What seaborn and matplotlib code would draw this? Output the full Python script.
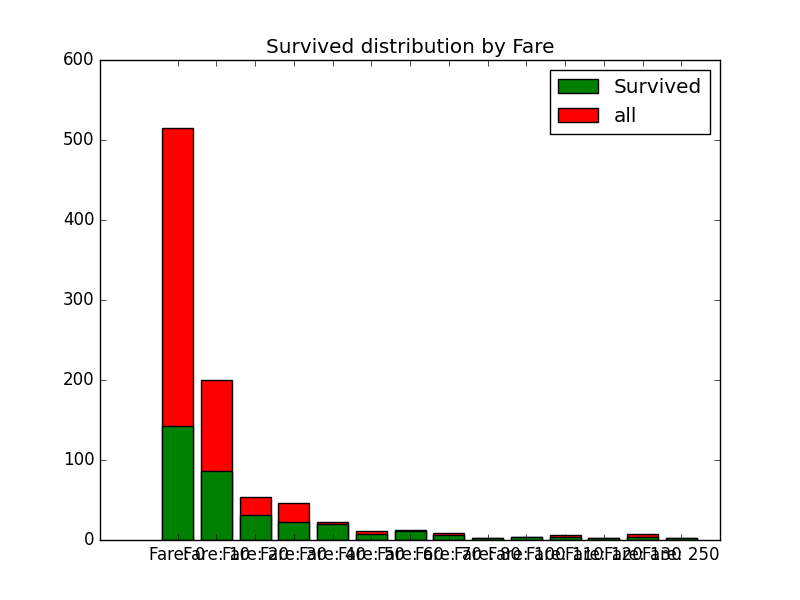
import matplotlib
matplotlib.use("Agg")
import matplotlib.pyplot as plt
import seaborn as sns
from matplotlib.patches import Patch

# Fare bins (lower bound) and passenger counts
fare_labels = ["Fare: 0", "Fare: 10", "Fare: 20", "Fare: 30", "Fare: 40",
               "Fare: 50", "Fare: 60", "Fare: 70", "Fare: 80", "Fare: 100",
               "Fare: 110", "Fare: 120", "Fare: 130", "Fare: 250"]
all_counts = [515, 200, 54, 46, 23, 11, 12, 9, 3, 4, 6, 3, 7, 3]
survived_counts = [142, 86, 31, 22, 20, 7, 11, 6, 3, 4, 4, 3, 4, 3]

plt.style.use("classic")
fig, ax = plt.subplots(figsize=(8, 6), dpi=100)

# 'all' drawn first, survived on top of it
sns.barplot(x=fare_labels, y=all_counts, order=fare_labels, color="r",
            saturation=1, width=0.8, edgecolor="k", linewidth=1, ax=ax)
sns.barplot(x=fare_labels, y=survived_counts, order=fare_labels, color="g",
            saturation=1, width=0.8, edgecolor="k", linewidth=1, ax=ax)

ax.set_xlim(-2, 14)
ax.set_ylim(0, 600)
ax.set_xlabel("")
ax.set_ylabel("")
ax.set_title("Survived distribution by Fare")

handles = [Patch(facecolor="g", edgecolor="k", label="Survived"),
           Patch(facecolor="r", edgecolor="k", label="all")]
ax.legend(handles=handles, loc="upper right")

fig.savefig("out.png", dpi=100)
